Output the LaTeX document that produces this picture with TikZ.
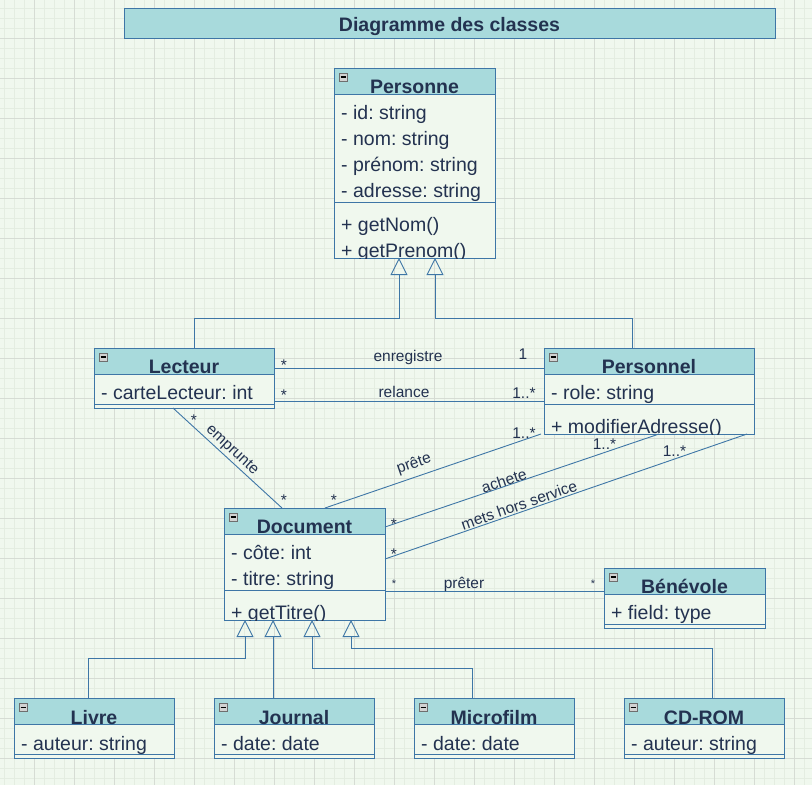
\documentclass[tikz,border=0pt]{standalone}
\usepackage{fontspec}
\setmainfont{Liberation Sans}
\usetikzlibrary{calc,arrows.meta}
\frenchspacing
\definecolor{bg}{HTML}{F0F8EE}
\definecolor{gridminor}{HTML}{E4EDE1}
\definecolor{gridmajor}{HTML}{D6DCD4}
\definecolor{headfill}{HTML}{A8DADC}
\definecolor{umlline}{HTML}{3E76A6}
\definecolor{umltext}{HTML}{233250}
\definecolor{iconfill}{HTML}{D2D2D2}
\definecolor{iconline}{HTML}{6E6E6E}
\tikzset{
  boxnode/.style={draw=none, fill=bg, inner sep=0pt, outer sep=0pt, anchor=north west},
  border/.style={draw=umlline, line width=1pt},
  titletext/.style={font=\fontsize{19.5}{20}\selectfont\bfseries, text=umltext, anchor=base, inner sep=0pt},
  attrtext/.style={font=\fontsize{19.5}{20}\selectfont, text=umltext, anchor=base west, inner sep=0pt},
  link/.style={draw=umlline, line width=0.9pt},
  gen/.style={link, -{Triangle[open, width=17pt, length=17pt]}},
  lbl/.style={font=\fontsize{15.5}{16}\selectfont, text=umltext, inner sep=0pt, anchor=base},
  smalllbl/.style={font=\fontsize{11}{12}\selectfont, text=umltext, inner sep=0pt, anchor=base},
}
\newcommand\umlclass[9]{%
  \pgfmathsetmacro\uh{26+26*#5+8+26*#6}%
  \pgfmathsetmacro\us{26+26*#5+4}%
  \node[boxnode, minimum width=#4pt, minimum height=\uh pt] (#1) at (#2,#3) {};
  \fill[headfill] (#1.north west) rectangle ($(#1.north east)+(0,26)$);
  \draw[border] ($(#1.north west)+(0,26)$) -- ($(#1.north east)+(0,26)$);
  \draw[border] ($(#1.north west)+(0,\us)$) -- ($(#1.north east)+(0,\us)$);
  \draw[border] (#1.north west) rectangle (#1.south east);
  \draw[iconline, fill=iconfill, line width=0.6pt] ($(#1.north west)+(5,5)$) rectangle ++(8,8);
  \draw[black, line width=1.1pt] ($(#1.north west)+(6.5,9)$) -- ++(5,0);
  \node[titletext] (#1-t) at ($(#1.north)+(0,25.5)$) {#7};
  \begin{scope}
    \clip (#1.north west) rectangle (#1.south east);
    \foreach \a [count=\i] in {#8} {\node[attrtext] (#1-a\i) at ($(#1.north west)+(7,{26+26*\i-0.5})$) {\a};}
    \ifnum#6>0
      \foreach \m [count=\i] in {#9} {\node[attrtext] (#1-m\i) at ($(#1.north west)+(7,{26+26*#5+8+26*\i-0.5})$) {\m};}
    \fi
  \end{scope}
}
\begin{document}
\begin{tikzpicture}[x=1pt,y=-1pt]
\useasboundingbox (0,0) rectangle (812,785);
\fill[bg] (0,0) rectangle (812,785);
\foreach \x in {4.3,14.3,...,812} \draw[gridminor, line width=0.5pt] (\x,0) -- (\x,785);
\foreach \y in {8.3,18.3,...,785} \draw[gridminor, line width=0.5pt] (0,\y) -- (812,\y);
\foreach \x in {34.3,74.3,...,812} \draw[gridmajor, line width=0.8pt] (\x,0) -- (\x,785);
\foreach \y in {38.3,78.3,...,785} \draw[gridmajor, line width=0.8pt] (0,\y) -- (812,\y);

% title
\node[draw=umlline, line width=1pt, fill=headfill, minimum width=651pt, minimum height=30pt, inner sep=0pt, outer sep=0pt, anchor=north west] (titlebox) at (124,8) {};
\node[titletext] (titletxt) at ($(titlebox.north)+(0,23)$) {Diagramme des classes};

% classes
\umlclass{personne}{334}{68}{161}{4}{2}{Personne}{- id: string, - nom: string, - prénom: string, - adresse: string}{+ getNom(), + getPrenom()}
\umlclass{lecteur}{94}{348}{180}{1}{0}{Lecteur}{- carteLecteur: int}{}
\umlclass{personnel}{544}{348}{210}{1}{1}{Personnel}{- role: string}{+ modifierAdresse()}
\umlclass{document}{224}{508}{161}{2}{1}{Document}{- côte: int, - titre: string}{+ getTitre()}
\umlclass{benevole}{604}{568}{161}{1}{0}{Bénévole}{+ field: type}{}
\umlclass{livre}{14}{698.5}{160}{1}{0}{Livre}{- auteur: string}{}
\umlclass{journal}{214}{698.5}{160}{1}{0}{Journal}{- date: date}{}
\umlclass{microfilm}{414}{698.5}{160}{1}{0}{Microfilm}{- date: date}{}
\umlclass{cdrom}{624}{698.5}{160}{1}{0}{CD-ROM}{- auteur: string}{}

% generalizations
\draw[gen] ($(lecteur.north west)+(100,0)$) -- ($(lecteur.north west)+(100,-30)$) -| ($(personne.south west)+(65,0)$);
\draw[gen] ($(personnel.north west)+(88,0)$) -- ($(personnel.north west)+(88,-30)$) -| ($(personne.south west)+(101,0)$);
\draw[gen] ($(livre.north west)+(74,0)$) -- ($(livre.north west)+(74,-40.5)$) -| ($(document.south west)+(21,0)$);
\draw[gen] ($(journal.north west)+(59,0)$) -- ($(document.south west)+(49,0)$);
\draw[gen] ($(microfilm.north west)+(58,0)$) -- ($(microfilm.north west)+(58,-30.5)$) -| ($(document.south west)+(88,0)$);
\draw[gen] ($(cdrom.north west)+(88,0)$) -- ($(cdrom.north west)+(88,-50.5)$) -| ($(document.south west)+(127,0)$);

% associations
\draw[link] ($(lecteur.north east)+(0,20)$) -- ($(personnel.north west)+(0,20)$);
\draw[link] ($(lecteur.north east)+(0,53)$) -- ($(personnel.north west)+(0,53)$);
\draw[link] ($(lecteur.south west)+(79,0)$) -- ($(document.north west)+(58,0)$);
\draw[link] ($(document.north west)+(101,0)$) -- ($(personnel.south west)+(-3,0)$);
\draw[link] ($(document.north east)+(0,19)$) -- ($(personnel.south west)+(115,0)$);
\draw[link] ($(document.north east)+(0,51)$) -- ($(personnel.south west)+(203,0)$);
\draw[link] ($(document.north east)+(0,83)$) -- ($(benevole.north west)+(0,23)$);

% labels
\node[lbl] (enrA) at (284,370) {*};
\node[lbl] (enrL) at (408,361) {enregistre};
\node[lbl] (enrB) at (523,359) {1};
\node[lbl] (relA) at (284,400) {*};
\node[lbl] (relL) at (404,397) {relance};
\node[lbl] (relB) at (524,398) {1..*};
\node[lbl] (empA) at (194,425) {*};
\node[lbl] (empB) at (284,505) {*};
\node[lbl, anchor=center, rotate=-42.5] (empL) at (232,450.5) {emprunte};
\node[lbl] (preA) at (334,505) {*};
\node[lbl] (preB) at (524,438) {1..*};
\node[lbl, anchor=center, rotate=18.9] (preL) at (414,464) {prête};
\node[lbl] (achA) at (394,529) {*};
\node[lbl] (achB) at (604.5,449) {1..*};
\node[lbl, anchor=center, rotate=18.6] (achL) at (504,481) {achete};
\node[lbl] (metA) at (394,559) {*};
\node[lbl] (metB) at (674.5,456) {1..*};
\node[lbl, anchor=center, rotate=19.05] (metL) at (519,505) {mets hors service};
\node[smalllbl] (ptrA) at (394,587) {*};
\node[lbl] (ptrL) at (464,588) {prêter};
\node[smalllbl] (ptrB) at (593,587) {*};
\end{tikzpicture}
\end{document}
